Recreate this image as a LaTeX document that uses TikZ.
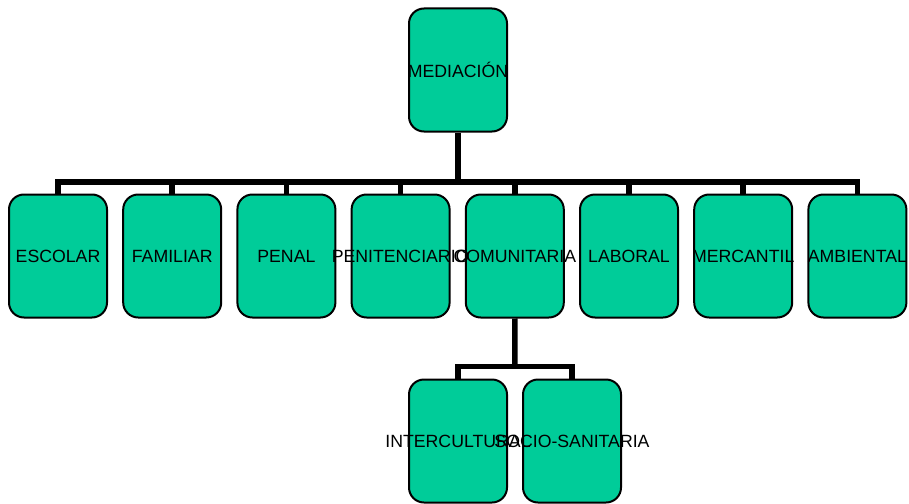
\documentclass[tikz,border=0pt]{standalone}
\usepackage{fontspec}
\setmainfont{Liberation Sans}
\definecolor{verde}{RGB}{0,204,153}
\tikzset{
  caja/.style={draw=black, line width=2pt, fill=verde, rounded corners=15pt,
    minimum width=98pt, minimum height=123pt, inner sep=0pt},
  texto/.style={inner sep=0pt, font=\fontsize{17.7}{21}\selectfont},
  rama/.style={line width=5.5pt},
}
\begin{document}
\begin{tikzpicture}[x=1pt,y=1pt]
    \useasboundingbox (0,0) rectangle (909,-503);

    % raiz
    \node[caja] (med) at (458,-70) {};
    \coordinate (bus1) at (458,-182);

    % ambitos
    \foreach \name [count=\i from 0] in {esc,fam,pen,pent,com,lab,mer,amb} {
        \node[caja] (\name) at (58+114.2*\i,-256) {};
    }
    \coordinate (bus2) at (515,-366.5);

    % comunitaria
    \node[caja] (int) at (458,-441) {};
    \node[caja] (soc) at (572,-441) {};

    \begin{scope}[rama]
        \draw (med.south) -- (bus1);
        \foreach \name in {esc,fam,pen,pent,com,lab,mer,amb} {
                \draw (bus1) -| (\name.north);
            }
        \draw (com.south) -- (bus2);
        \draw (bus2) -| (int.north);
        \draw (bus2) -| (soc.north);
    \end{scope}

    % textos encima de las cajas
    \foreach \name/\txt in {med/MEDIACIÓN, esc/ESCOLAR, fam/FAMILIAR, pen/PENAL,
            pent/PENITENCIARIO, com/COMUNITARIA, lab/LABORAL, mer/MERCANTIL,
            amb/AMBIENTAL, int/INTERCULTURAL, soc/SOCIO-SANITARIA} {
        \node[texto] (t-\name) at (\name) {\txt};
    }
\end{tikzpicture}
\end{document}
